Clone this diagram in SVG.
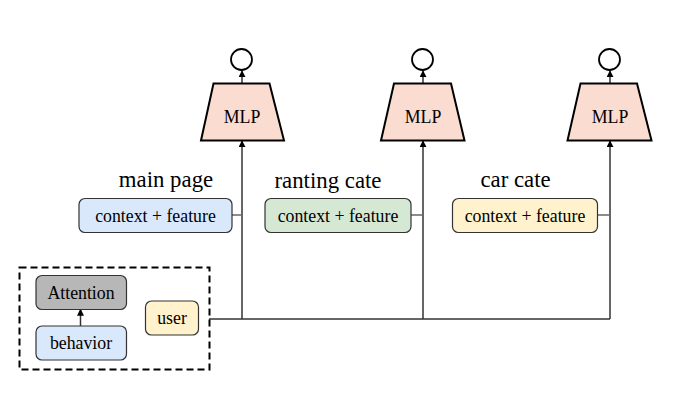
<svg xmlns="http://www.w3.org/2000/svg" width="676" height="411" viewBox="0 0 676 411">
<defs>
<marker id="arr" viewBox="0 0 8 8" refX="7" refY="4" markerWidth="7" markerHeight="7" markerUnits="userSpaceOnUse" orient="auto">
<path d="M0,0 L8,4 L0,8 Z" fill="#000"/>
</marker>
<style>
text{font-family:"Liberation Serif","Times New Roman",serif;fill:#000;text-anchor:middle}
.t{font-size:17.8px}
.lbl{font-size:22.8px}
.mlp{fill:#fbdcd0;stroke:#000;stroke-width:2}
.out{fill:#fff;stroke:#000;stroke-width:1.8}
.box{stroke:#333;stroke-width:1.2}
.blue{fill:#dae8fc}.green{fill:#d5e8d4}.yellow{fill:#fff2cc}.gray{fill:#b7b7b7}
.ln{fill:none;stroke:#333;stroke-width:1.5}
.lg{fill:none;stroke:#666;stroke-width:1.5}
.dash{fill:none;stroke:#000;stroke-width:2;stroke-dasharray:7,4}
</style>
</defs>
<rect width="676" height="411" fill="#fff"/>
<g id="connectors">
<path class="ln" d="M209,319 H610"/>
<path class="ln" d="M242,319 V141" marker-end="url(#arr)"/>
<path class="ln" d="M423,319 V141" marker-end="url(#arr)"/>
<path class="ln" d="M610,319 V141" marker-end="url(#arr)"/>
<path class="lg" d="M232,215 H242"/>
<path class="lg" d="M411,215 H423"/>
<path class="lg" d="M598,215 H610"/>
<path class="ln" d="M242,83 V71" marker-end="url(#arr)"/>
<path class="ln" d="M423,83 V71" marker-end="url(#arr)"/>
<path class="ln" d="M610,83 V71" marker-end="url(#arr)"/>
<path class="ln" d="M80.5,326 V309.5" marker-end="url(#arr)"/>
</g>
<g id="mlp1">
<polygon class="mlp" points="213.5,83.5 269.5,83.5 284,140.5 201,140.5"/>
<text class="t" x="242" y="122.5">MLP</text>
</g>
<g id="out1"><circle class="out" cx="241.5" cy="59.5" r="10.5"/></g>
<g id="mlp2">
<polygon class="mlp" points="394,83.5 451,83.5 464.5,140.5 381,140.5"/>
<text class="t" x="423" y="122.5">MLP</text>
</g>
<g id="out2"><circle class="out" cx="422.5" cy="59.5" r="10.5"/></g>
<g id="mlp3">
<polygon class="mlp" points="580.5,83.5 637,83.5 651.5,140.5 567.5,140.5"/>
<text class="t" x="610" y="122.5">MLP</text>
</g>
<g id="out3"><circle class="out" cx="609.5" cy="59.5" r="10.5"/></g>
<g id="label-main"><text class="lbl" x="166" y="187">main page</text></g>
<g id="label-ranting"><text class="lbl" x="328" y="188">ranting cate</text></g>
<g id="label-car"><text class="lbl" x="515.5" y="186.5">car cate</text></g>
<g id="ctx1">
<rect class="box blue" x="79" y="198.5" width="153" height="34" rx="6"/>
<text class="t" x="155.5" y="221.5">context + feature</text>
</g>
<g id="ctx2">
<rect class="box green" x="265" y="198.5" width="146" height="34" rx="6"/>
<text class="t" x="338" y="221.5">context + feature</text>
</g>
<g id="ctx3">
<rect class="box yellow" x="452.5" y="198.5" width="145" height="34" rx="6"/>
<text class="t" x="525" y="221.5">context + feature</text>
</g>
<g id="group">
<rect class="dash" x="19.5" y="267.5" width="190" height="102"/>
</g>
<g id="attention">
<rect class="box gray" x="36" y="275.5" width="90.5" height="34" rx="6"/>
<text class="t" x="81" y="298.5">Attention</text>
</g>
<g id="behavior">
<rect class="box blue" x="36" y="326" width="90.5" height="34" rx="6"/>
<text class="t" x="81" y="349">behavior</text>
</g>
<g id="user">
<rect class="box yellow" x="145.5" y="301" width="53" height="34" rx="6"/>
<text class="t" x="172" y="323.5">user</text>
</g>
</svg>
